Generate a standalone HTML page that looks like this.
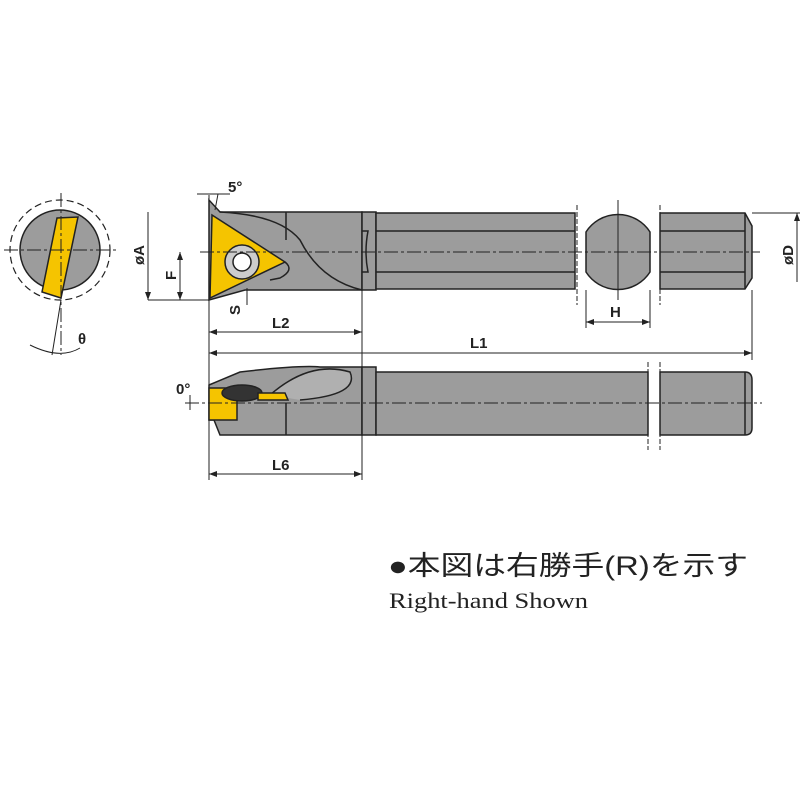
<!DOCTYPE html>
<html><head><meta charset="utf-8"><style>html,body{margin:0;padding:0;background:#fff}svg{display:block}</style></head><body>
<svg width="800" height="800" viewBox="0 0 800 800" xmlns="http://www.w3.org/2000/svg">
<defs>
<marker id="a" markerWidth="8" markerHeight="6" refX="8" refY="3" orient="auto-start-reverse" markerUnits="userSpaceOnUse"><path d="M0,0 L8,3 L0,6z" fill="#222"/></marker>
</defs>
<g stroke="#222" stroke-width="1.5" fill="#9c9c9c">
<circle cx="60" cy="250" r="50" fill="none" stroke-dasharray="7,4" stroke-width="1.2"/>
<circle cx="60" cy="250" r="40"/>
<polygon points="57,218 78,217 61,298 42,292" fill="#f5c400"/>
<line x1="4" y1="250" x2="118" y2="250" stroke-dasharray="14,3,3,3" stroke-width="1"/>
<line x1="61" y1="193" x2="61" y2="355" stroke-dasharray="14,3,3,3" stroke-width="1"/>
<line x1="61" y1="300" x2="52" y2="355" stroke-width="1"/>
<path d="M30,345 Q60,360 80,348" fill="none" stroke-width="1"/>
<path d="M220,212 L362,212 L362,290 L245,290 L209,300 L209,200 Z"/>
<path d="M220,212 Q280,215 300,240 Q320,280 362,290" fill="none"/>
<line x1="286" y1="212" x2="286" y2="240"/>
<rect x="362" y="212" width="14" height="78"/>
<rect x="376" y="213" width="199" height="76"/>
<line x1="376" y1="231" x2="575" y2="231"/><line x1="376" y1="272" x2="575" y2="272"/>
<path d="M362,231 L368,231 Q364,252 368,272 L362,272" fill="none"/>
<path d="M212,215 L285,262 L210,298 Z" fill="#f5c400"/>
<path d="M285,262 Q295,270 280,278 L270,280" fill="none"/>
<circle cx="242" cy="262" r="17" fill="#ccc"/>
<circle cx="242" cy="262" r="9" fill="#fff"/>
<path d="M660,213 L745,213 L752,226 L752,278 L745,289 L660,289 Z"/>
<line x1="660" y1="231" x2="745" y2="231"/><line x1="660" y1="272" x2="745" y2="272"/>
<line x1="745" y1="213" x2="745" y2="289"/>
<path d="M586,232 A38,38 0 0 1 650,232 L650,272 A38,38 0 0 1 586,272 Z"/>
<path d="M209,385 L240,372 Q300,365 320,367 L362,367 L362,435 L220,435 L214,420 L209,420 Z"/>
<path d="M270,395 Q310,360 350,372 Q360,395 300,400" fill="#b0b0b0"/>
<line x1="286" y1="403" x2="286" y2="435"/>
<rect x="362" y="367" width="14" height="68"/>
<rect x="376" y="372" width="272" height="63"/>
<path d="M660,372 L745,372 Q752,372 752,380 L752,428 Q752,435 745,435 L660,435 Z"/>
<line x1="745" y1="372" x2="745" y2="435"/>
<rect x="209" y="388" width="28" height="32" fill="#f5c400"/>
<ellipse cx="242" cy="393" rx="20" ry="8" fill="#333"/>
<path d="M258,393 L285,393 L288,400 L258,400Z" fill="#f5c400"/>
</g>
<g stroke="#222" stroke-width="1" fill="none">
<line x1="200" y1="252" x2="760" y2="252" stroke-dasharray="14,3,3,3"/>
<line x1="185" y1="403" x2="762" y2="403" stroke-dasharray="14,3,3,3"/>
<line x1="618" y1="200" x2="618" y2="300"/>
<line x1="577" y1="205" x2="577" y2="305" stroke-dasharray="5,2"/>
<line x1="660" y1="205" x2="660" y2="305" stroke-dasharray="5,2"/>
<line x1="648" y1="362" x2="648" y2="450" stroke-dasharray="5,2"/>
<line x1="660" y1="362" x2="660" y2="450" stroke-dasharray="5,2"/>
<line x1="209" y1="195" x2="209" y2="480"/>
<line x1="197" y1="194" x2="230" y2="194"/><line x1="218" y1="194" x2="215" y2="210"/>
<line x1="148" y1="212" x2="148" y2="300" marker-end="url(#a)"/>
<line x1="148" y1="300" x2="209" y2="300"/>
<line x1="180" y1="252" x2="180" y2="300" marker-start="url(#a)" marker-end="url(#a)"/>
<line x1="247" y1="288" x2="247" y2="305"/>
<line x1="362" y1="290" x2="362" y2="480"/>
<line x1="209" y1="332" x2="362" y2="332" marker-start="url(#a)" marker-end="url(#a)"/>
<line x1="209" y1="353" x2="752" y2="353" marker-start="url(#a)" marker-end="url(#a)"/>
<line x1="752" y1="290" x2="752" y2="360"/>
<line x1="752" y1="213" x2="800" y2="213"/>
<line x1="797" y1="213" x2="797" y2="282" marker-start="url(#a)"/>
<line x1="586" y1="290" x2="586" y2="328"/><line x1="650" y1="290" x2="650" y2="328"/>
<line x1="586" y1="322" x2="650" y2="322" marker-start="url(#a)" marker-end="url(#a)"/>
<line x1="209" y1="474" x2="362" y2="474" marker-start="url(#a)" marker-end="url(#a)"/>
<line x1="190" y1="395" x2="190" y2="410"/>
</g>
<g font-family="Liberation Sans, sans-serif" font-weight="bold" font-size="15" fill="#222">
<text x="228" y="192">5°</text>
<text x="272" y="328">L2</text>
<text x="470" y="348">L1</text>
<text x="272" y="470">L6</text>
<text x="610" y="317">H</text>
<text x="78" y="344">θ</text>
<text x="176" y="394">0°</text>
<text transform="translate(144,265) rotate(-90)">øA</text>
<text transform="translate(176,280) rotate(-90)">F</text>
<text transform="translate(240,315) rotate(-90)">S</text>
<text transform="translate(793,265) rotate(-90)">øD</text>
</g>
<text x="388" y="575" font-family="Liberation Sans, 'Noto Sans CJK JP', sans-serif" font-size="27" fill="#222" textLength="360" lengthAdjust="spacingAndGlyphs">●本図は右勝手(R)を示す</text>
<text x="389" y="608" font-family="Liberation Serif, serif" font-size="22" fill="#222" textLength="199" lengthAdjust="spacingAndGlyphs">Right-hand Shown</text>
</svg>
</body></html>
